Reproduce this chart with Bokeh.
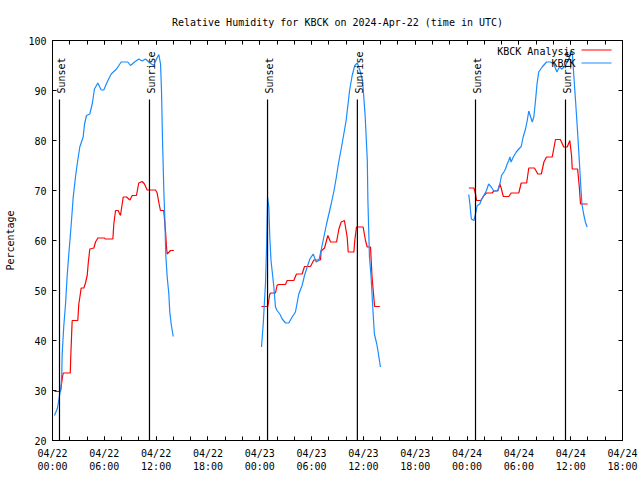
import math
from bokeh.plotting import figure
from bokeh.models import FixedTicker, LinearAxis, Range1d
from bokeh.embed import file_html
from bokeh.resources import INLINE
from bokeh.core.properties import value

FONT = "DejaVu Sans Mono"
RED = "#ff0000"
BLUE = "#1a8cff"

title_text = "Relative Humidity for KBCK on 2024-Apr-22 (time in UTC)"
y_label = "Percentage"

# hours since 2024-04-22 00:00 UTC
x_tick_hours = [0, 6, 12, 18, 24, 30, 36, 42, 48, 54, 60, 66]
x_tick_labels = ["04/22\n00:00", "04/22\n06:00", "04/22\n12:00", "04/22\n18:00",
                 "04/23\n00:00", "04/23\n06:00", "04/23\n12:00", "04/23\n18:00",
                 "04/24\n00:00", "04/24\n06:00", "04/24\n12:00", "04/24\n18:00"]
y_ticks = [20, 30, 40, 50, 60, 70, 80, 90, 100]

# KBCK observations (blue), three nights
obs_h_1 = [0.23, 0.58, 0.85, 0.98, 1.07, 1.12, 1.31, 1.51, 1.70, 1.89, 2.17, 2.40, 2.66, 2.86,
           3.16, 3.55, 3.71, 3.94, 4.32, 4.60, 4.86, 5.25, 5.64, 5.94, 6.33, 6.80, 7.41, 7.95,
           8.72, 9.03, 9.50, 9.99, 10.39, 10.77, 11.27, 11.73, 12.04, 12.31, 12.51, 12.62, 12.74,
           12.89, 13.0, 13.12, 13.28, 13.47, 13.58, 13.74, 13.98]
obs_v_1 = [25.0, 26.5, 29.4, 30.5, 33.0, 37.3, 43.0, 47.3, 53.0, 57.3, 63.3, 68.7, 72.7, 75.3,
           78.7, 80.7, 83.3, 85.0, 85.3, 87.3, 90.3, 91.5, 90.1, 90.1, 91.7, 93.3, 94.3, 95.7,
           95.7, 95.0, 95.7, 96.3, 95.9, 96.3, 95.5, 95.0, 96.3, 97.2, 95.3, 90.0, 80.0,
           70.0, 64.7, 57.0, 52.7, 49.3, 45.7, 43.3, 40.8]
obs_h_2 = [24.2, 24.4, 24.55, 24.66, 24.78, 24.9, 25.05, 25.16, 25.3, 25.47, 25.63, 25.82, 26.0,
           26.32, 26.6, 26.98, 27.36, 27.75, 28.13, 28.52, 28.9, 29.18, 29.49, 29.8, 30.19, 30.53,
           30.84, 31.1, 31.42, 31.73, 32.0, 32.27, 32.6, 32.9, 33.1, 33.5, 34.0, 34.4, 34.7, 35.0,
           35.3, 35.6, 35.9, 36.2, 36.45, 36.52, 36.7, 36.89, 37.08, 37.27, 37.55, 37.74, 37.97]
obs_v_2 = [38.7, 43.3, 48.0, 51.3, 58.3, 68.7, 66.7, 60.7, 56.0, 53.3, 50.7, 46.7, 46.0,
           45.3, 44.3, 43.5, 43.5, 44.7, 45.7, 49.3, 51.0, 53.0, 54.7, 56.3, 57.3, 55.7,
           56.0, 58.0, 60.7, 63.3, 65.3, 67.3, 70.0, 73.0, 75.3, 79.0, 84.0, 90.0, 93.0, 95.0,
           95.5, 94.0, 92.0, 85.0, 76.0, 68.0, 56.7, 52.7, 46.7, 41.3, 39.3, 37.3, 34.7]
obs_h_3 = [48.2, 48.33, 48.5, 48.8, 48.98, 49.18, 49.48, 49.64, 49.95, 50.25, 50.5, 50.8, 51.1,
           51.56, 51.8, 51.99, 52.26, 52.45, 52.65, 52.84, 52.96, 53.1, 53.35, 53.7, 53.99, 54.27,
           54.5, 54.77, 54.97, 55.15, 55.35, 55.55, 55.73, 55.93, 56.1, 56.3, 56.7, 57.2, 57.67,
           58.05, 58.4, 58.7, 58.98, 59.4, 59.8, 60.06, 60.2, 60.35, 60.55, 60.74, 60.93, 61.13,
           61.3, 61.5, 61.7, 61.9]
obs_v_3 = [69.2, 67.3, 64.3, 64.0, 65.3, 67.0, 67.3, 68.1, 69.0, 70.0, 71.3, 70.7, 69.9,
           70.0, 71.3, 73.0, 73.7, 74.3, 75.3, 76.0, 76.7, 75.7, 76.7, 77.7, 78.3, 78.8,
           80.7, 82.3, 84.0, 85.9, 84.8, 83.7, 84.7, 88.0, 91.3, 93.7, 94.7, 95.7, 95.7,
           95.3, 93.7, 94.7, 94.3, 95.0, 96.3, 98.0, 97.3, 93.3, 88.3, 83.3, 78.0, 72.0,
           67.3, 65.3, 63.7, 62.7]

# KBCK Analysis (red)
ana_h_1 = [0.23, 0.93, 1.12, 1.24, 2.06, 2.1, 2.22, 2.28, 2.93, 3.04, 3.24, 3.32, 3.63, 3.82,
           4.02, 4.13, 4.32, 4.79, 4.98, 5.25, 6.02, 6.1, 6.99, 7.1, 7.3, 7.6, 7.87, 8.19, 8.57,
           8.96, 9.23, 9.72, 9.99, 10.38, 10.65, 10.96, 11.93, 12.12, 12.3, 12.5, 12.88, 13.08,
           13.2, 13.28, 13.66, 14.05]
ana_v_1 = [29.8, 29.8, 32.3, 33.5, 33.5, 36.0, 41.5, 44.0, 44.0, 47.2, 49.5, 50.5, 50.5, 51.5,
           53.0, 55.3, 58.3, 58.5, 59.7, 60.5, 60.5, 60.3, 60.3, 63.3, 66.0, 66.0, 65.0, 68.7, 68.7,
           68.1, 69.0, 69.0, 71.5, 71.8, 71.3, 70.1, 70.1, 69.5, 67.7, 66.0, 66.0, 62.0,
           58.7, 57.3, 58.0, 58.0]
ana_h_2 = [24.2, 24.93, 25.16, 25.3, 25.82, 26.0, 26.15, 26.98, 27.17, 27.94, 28.25, 28.9, 29.18,
           29.87, 30.26, 31.03, 31.1, 31.5, 31.88, 32.2, 32.89, 33.16, 33.43, 33.8, 34.12, 34.24,
           34.9, 35.0, 35.2, 35.97, 36.24, 36.44, 36.82, 37.0, 37.2, 37.3, 37.9]
ana_v_2 = [46.8, 46.8, 49.3, 49.5, 49.5, 51.0, 51.2, 51.2, 52.0, 52.0, 53.3, 53.3, 54.8,
           54.8, 56.1, 56.1, 57.9, 58.5, 61.0, 59.7, 59.7, 62.3, 63.7, 64.0, 60.7, 57.7,
           57.7, 60.0, 62.7, 62.7, 60.0, 58.7, 58.7, 52.7, 48.7, 46.8, 46.8]
ana_h_3 = [48.2, 48.8, 48.98, 49.1, 49.6, 49.95, 50.25, 50.9, 51.1, 51.56, 51.8, 51.95, 52.2,
           52.84, 53.1, 53.99, 54.27, 54.9, 55.15, 55.8, 56.2, 56.6, 56.9, 57.2, 57.86, 58.24,
           58.8, 59.2, 59.6, 59.9, 60.1, 60.18, 60.8, 61.0, 61.14, 61.97]
ana_v_3 = [70.5, 70.5, 69.3, 68.0, 68.0, 69.0, 69.5, 69.5, 69.9, 69.9, 71.3, 70.5, 68.8,
           68.8, 69.5, 69.5, 71.5, 71.5, 74.5, 74.5, 73.3, 73.3, 75.7, 76.7, 76.7, 80.2,
           80.2, 78.7, 78.7, 80.0, 77.0, 74.3, 74.3, 70.7, 67.3, 67.3]

sun_hours = [0.81, 11.23, 24.9, 35.3, 48.98, 59.4]
sun_labels = ["Sunset", "Sunrise", "Sunset", "Sunrise", "Sunset", "Sunrise"]

series_names = ["KBCK Analysis", "KBCK"]

p = figure(width=640, height=480, x_range=Range1d(0, 66), y_range=Range1d(20, 100),
           output_backend="svg", toolbar_location=None,
           min_border_left=52, min_border_right=18, min_border_top=40, min_border_bottom=40)

p.title.text = title_text
p.title.text_font = FONT
p.title.text_font_size = "10px"
p.title.text_font_style = "normal"
p.title.align = "center"
p.title.text_color = "black"
p.title.standoff = 25

p.grid.visible = False
p.outline_line_color = "black"
p.outline_line_width = 1
p.background_fill_color = "white"
p.border_fill_color = "white"

minor_x = list(range(0, 67, 2))


def style_axis(ax, labels=True):
    ax.axis_line_color = "black"
    ax.major_tick_line_color = "black"
    ax.minor_tick_line_color = "black"
    ax.major_tick_in = 4
    ax.major_tick_out = 0
    ax.minor_tick_in = 4
    ax.minor_tick_out = 0
    ax.major_label_text_font = FONT
    if labels:
        ax.major_label_text_font_size = "10px"
        ax.major_label_text_color = "black"
    else:
        ax.major_label_text_font_size = "1px"
        ax.major_label_text_color = None
        ax.major_label_standoff = 0


xa = p.xaxis[0]
xa.ticker = FixedTicker(ticks=x_tick_hours, minor_ticks=minor_x)
xa.major_label_overrides = {h: lab for h, lab in zip(x_tick_hours, x_tick_labels)}
style_axis(xa)
xa.major_label_standoff = 7

ya = p.yaxis[0]
ya.ticker = FixedTicker(ticks=y_ticks, minor_ticks=[])
style_axis(ya)
ya.major_label_standoff = 6
ya.axis_label = y_label
ya.axis_label_text_font = FONT
ya.axis_label_text_font_size = "10px"
ya.axis_label_text_font_style = "normal"
ya.axis_label_text_color = "black"
ya.axis_label_standoff = 9

top = LinearAxis(ticker=FixedTicker(ticks=x_tick_hours, minor_ticks=minor_x))
style_axis(top, labels=False)
p.add_layout(top, "above")
right = LinearAxis(ticker=FixedTicker(ticks=y_ticks, minor_ticks=[]))
style_axis(right, labels=False)
p.add_layout(right, "right")

for h, v in [(ana_h_1, ana_v_1), (ana_h_2, ana_v_2), (ana_h_3, ana_v_3)]:
    p.line(h, v, line_color=RED, line_width=1.2)
for h, v in [(obs_h_1, obs_v_1), (obs_h_2, obs_v_2), (obs_h_3, obs_v_3)]:
    p.line(h, v, line_color=BLUE, line_width=1.2)

# sunrise / sunset markers
p.segment(x0=sun_hours, y0=[20] * len(sun_hours), x1=sun_hours, y1=[88.2] * len(sun_hours),
          line_color="black", line_width=1.2)
p.text(x=sun_hours, y=[89.4] * len(sun_hours), text=sun_labels, angle=math.pi / 2,
       text_align="left", text_baseline="middle", x_offset=2,
       text_font=value(FONT), text_font_size="10px", text_color="black")

# legend (gnuplot style: label left of sample)
leg_text_x = 60.56
leg_y = [97.9, 95.4]
p.text(x=[leg_text_x] * 2, y=leg_y, text=series_names, text_align="right",
       text_baseline="middle", text_font=value(FONT), text_font_size="10px", text_color="black")
p.segment(x0=[61.25] * 2, y0=[98.1, 95.5], x1=[64.73] * 2, y1=[98.1, 95.5],
          line_color=[RED, BLUE], line_width=1.2)

open("out.html", "w").write(file_html(p, INLINE))
